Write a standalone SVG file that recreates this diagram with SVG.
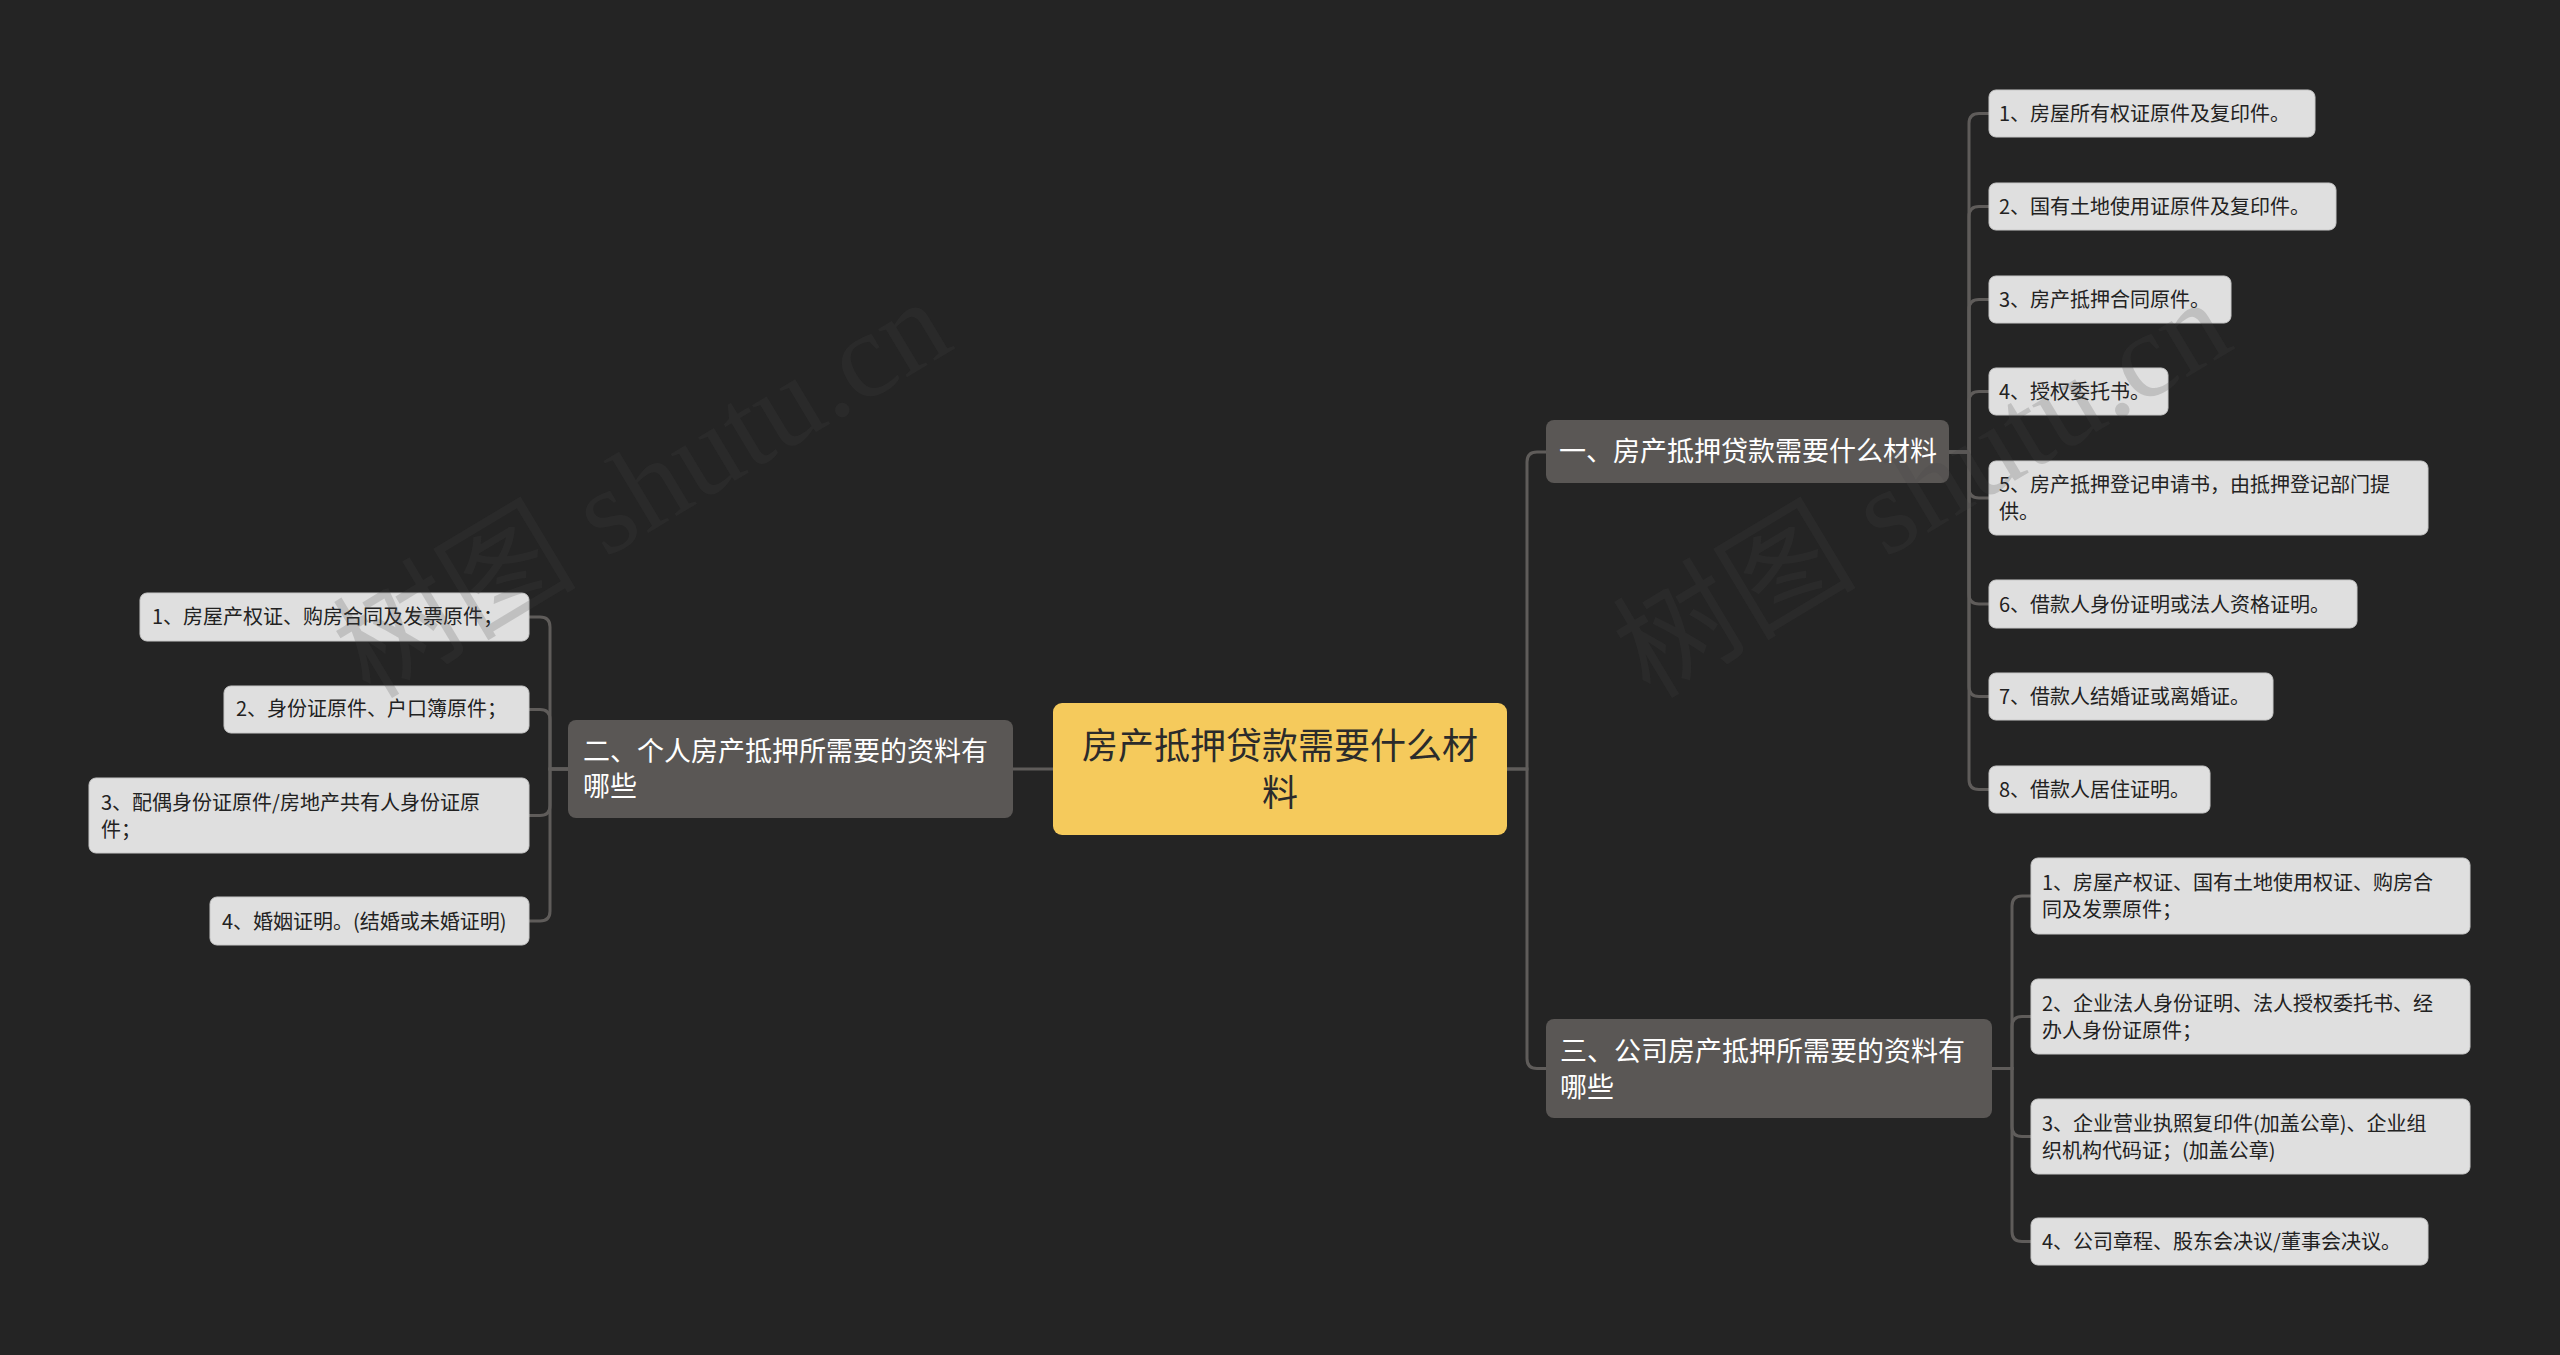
<svg xmlns="http://www.w3.org/2000/svg" width="2560" height="1355" viewBox="0 0 2560 1355">
<style>
.bg{fill:#242424}
.conn{fill:none;stroke:#5f5c5a;stroke-width:3}
.root rect{fill:#f5ca5c}
.root text{fill:#2b2b2b;font-size:36px}
.branch rect{fill:#5a5755}
.branch text{fill:#ffffff;font-size:27px}
.leaf rect{fill:#dfdfdf;stroke:#c8c8c8;stroke-width:1}
.leaf text{fill:#222222;font-size:20px}
text{font-family:"Noto Sans CJK SC","Liberation Sans",sans-serif}
.wm{font-family:"Liberation Serif","Noto Sans CJK SC",serif;font-size:122px;fill:#444444;fill-opacity:0.2}
</style>
<rect class="bg" x="0" y="0" width="2560" height="1355"/>
<g id="connectors">
<path class="conn" d="M1053,769 H1013"/>
<path class="conn" d="M1507,769 H1527 V462 Q1527,452 1537,452 H1546"/>
<path class="conn" d="M1507,769 H1527 V1058.5 Q1527,1068.5 1537,1068.5 H1546"/>
<path class="conn" d="M568,769 H550 V627 Q550,617 540,617 H529"/>
<path class="conn" d="M568,769 H550 V719.5 Q550,709.5 540,709.5 H529"/>
<path class="conn" d="M568,769 H550 V805.5 Q550,815.5 540,815.5 H529"/>
<path class="conn" d="M568,769 H550 V911 Q550,921 540,921 H529"/>
<path class="conn" d="M1949,452 H1969 V123.5 Q1969,113.5 1979,113.5 H1989"/>
<path class="conn" d="M1949,452 H1969 V216.5 Q1969,206.5 1979,206.5 H1989"/>
<path class="conn" d="M1949,452 H1969 V309.5 Q1969,299.5 1979,299.5 H1989"/>
<path class="conn" d="M1949,452 H1969 V401.5 Q1969,391.5 1979,391.5 H1989"/>
<path class="conn" d="M1949,452 H1969 V488 Q1969,498 1979,498 H1989"/>
<path class="conn" d="M1949,452 H1969 V594 Q1969,604 1979,604 H1989"/>
<path class="conn" d="M1949,452 H1969 V686.5 Q1969,696.5 1979,696.5 H1989"/>
<path class="conn" d="M1949,452 H1969 V779.5 Q1969,789.5 1979,789.5 H1989"/>
<path class="conn" d="M1992,1068.5 H2012 V906 Q2012,896 2022,896 H2031"/>
<path class="conn" d="M1992,1068.5 H2012 V1026.5 Q2012,1016.5 2022,1016.5 H2031"/>
<path class="conn" d="M1992,1068.5 H2012 V1126.5 Q2012,1136.5 2022,1136.5 H2031"/>
<path class="conn" d="M1992,1068.5 H2012 V1231.5 Q2012,1241.5 2022,1241.5 H2031"/>
</g>
<g id="root" class="root">
<rect x="1053" y="703" width="454" height="132" rx="9"/>
<text x="1280" y="759" text-anchor="middle">房产抵押贷款需要什么材</text>
<text x="1280" y="806" text-anchor="middle">料</text>
</g>
<g id="b2" class="branch">
<rect x="568" y="720" width="445" height="98" rx="8"/>
<text x="583" y="761">二、个人房产抵押所需要的资料有</text>
<text x="583" y="796">哪些</text>
</g>
<g id="b1" class="branch">
<rect x="1546" y="420" width="403" height="63" rx="8"/>
<text x="1559" y="461">一、房产抵押贷款需要什么材料</text>
</g>
<g id="b3" class="branch">
<rect x="1546" y="1019" width="446" height="99" rx="8"/>
<text x="1560" y="1061">三、公司房产抵押所需要的资料有</text>
<text x="1560" y="1097">哪些</text>
</g>
<g id="l1" class="leaf"><rect x="140" y="593" width="389" height="48" rx="7"/><text x="152" y="624">1、房屋产权证、购房合同及发票原件；</text></g>
<g id="l2" class="leaf"><rect x="224" y="686" width="305" height="47" rx="7"/><text x="236" y="716">2、身份证原件、户口簿原件；</text></g>
<g id="l3" class="leaf"><rect x="89" y="778" width="440" height="75" rx="7"/><text x="101" y="810">3、配偶身份证原件/房地产共有人身份证原</text><text x="101" y="837">件；</text></g>
<g id="l4" class="leaf"><rect x="210" y="897" width="319" height="48" rx="7"/><text x="222" y="929">4、婚姻证明。(结婚或未婚证明)</text></g>
<g id="r1" class="leaf"><rect x="1989" y="90" width="326" height="47" rx="7"/><text x="1999" y="121">1、房屋所有权证原件及复印件。</text></g>
<g id="r2" class="leaf"><rect x="1989" y="183" width="347" height="47" rx="7"/><text x="1999" y="214">2、国有土地使用证原件及复印件。</text></g>
<g id="r3" class="leaf"><rect x="1989" y="276" width="242" height="47" rx="7"/><text x="1999" y="307">3、房产抵押合同原件。</text></g>
<g id="r4" class="leaf"><rect x="1989" y="368" width="179" height="47" rx="7"/><text x="1999" y="399">4、授权委托书。</text></g>
<g id="r5" class="leaf"><rect x="1989" y="461" width="439" height="74" rx="7"/><text x="1999" y="492">5、房产抵押登记申请书，由抵押登记部门提</text><text x="1999" y="519">供。</text></g>
<g id="r6" class="leaf"><rect x="1989" y="580" width="368" height="48" rx="7"/><text x="1999" y="612">6、借款人身份证明或法人资格证明。</text></g>
<g id="r7" class="leaf"><rect x="1989" y="673" width="284" height="47" rx="7"/><text x="1999" y="704">7、借款人结婚证或离婚证。</text></g>
<g id="r8" class="leaf"><rect x="1989" y="766" width="221" height="47" rx="7"/><text x="1999" y="797">8、借款人居住证明。</text></g>
<g id="t1" class="leaf"><rect x="2031" y="858" width="439" height="76" rx="7"/><text x="2042" y="890">1、房屋产权证、国有土地使用权证、购房合</text><text x="2042" y="917">同及发票原件；</text></g>
<g id="t2" class="leaf"><rect x="2031" y="979" width="439" height="75" rx="7"/><text x="2042" y="1011">2、企业法人身份证明、法人授权委托书、经</text><text x="2042" y="1038">办人身份证原件；</text></g>
<g id="t3" class="leaf"><rect x="2031" y="1099" width="439" height="75" rx="7"/><text x="2042" y="1131">3、企业营业执照复印件(加盖公章)、企业组</text><text x="2042" y="1158">织机构代码证；(加盖公章)</text></g>
<g id="t4" class="leaf"><rect x="2031" y="1218" width="397" height="47" rx="7"/><text x="2042" y="1249">4、公司章程、股东会决议/董事会决议。</text></g>
<text class="wm" transform="translate(370,700) rotate(-31)">树图 shutu.cn</text>
<text class="wm" transform="translate(1650,700) rotate(-31)">树图 shutu.cn</text>
</svg>
